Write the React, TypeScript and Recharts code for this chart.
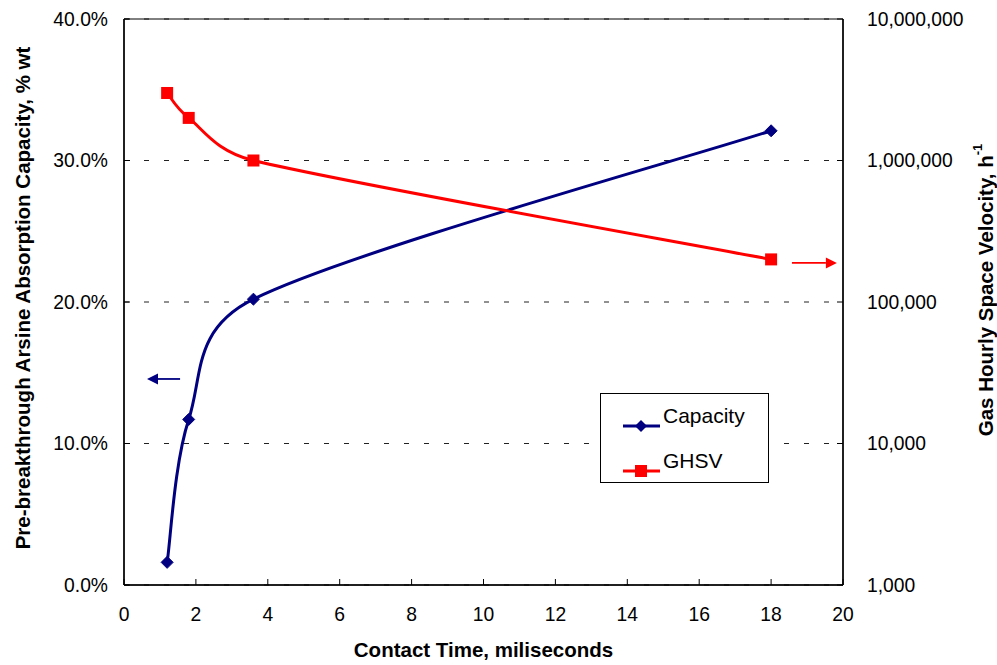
import React from 'react';
import {
  LineChart, Line, XAxis, YAxis, CartesianGrid, Legend, ReferenceLine, ReferenceArea,
} from 'recharts';

// ---------- data ----------
const contactTime = [1.2, 1.8, 3.6, 18];
const capacity = [1.6, 11.7, 20.2, 32.1]; // % wt
const ghsv = [3000000, 2000000, 1000000, 200000]; // h^-1

const xTicks = [0, 2, 4, 6, 8, 10, 12, 14, 16, 18, 20];
const leftTicks = [0, 10, 20, 30, 40];
const rightTicks = [1000, 10000, 100000, 1000000, 10000000];

// arrow annotations (data coordinates)
const capArrow = { from: 1.56, to: 0.64, y: 14.56 };
const ghsvArrow = { from: 18.58, to: 19.83, y: 189000 };

const data = contactTime.map((t, i) => ({ t, capacity: capacity[i], ghsv: ghsv[i] }));

const FONT = 'Arial, "Liberation Sans", Helvetica, sans-serif';
const NAVY = '#000080';
const RED = '#FF0000';
const TITLE_SIZE = 20.5;

// Excel-like smoothing curve
const excelSmooth: any = (context: any) => {
  let pts: [number, number][] = [];
  return {
    areaStart() {},
    areaEnd() {},
    lineStart() { pts = []; },
    lineEnd() {
      const n = pts.length;
      if (n === 0) return;
      context.moveTo(pts[0][0], pts[0][1]);
      if (n === 1) return;
      for (let i = 0; i < n - 1; i++) {
        const p0 = pts[Math.max(i - 1, 0)];
        const p1 = pts[i];
        const p2 = pts[i + 1];
        const p3 = pts[Math.min(i + 2, n - 1)];
        const seg = Math.hypot(p2[0] - p1[0], p2[1] - p1[1]);
        const d1x = p2[0] - p0[0], d1y = p2[1] - p0[1];
        const l1 = Math.hypot(d1x, d1y) || 1;
        const k1 = Math.min(1 / 6, (seg * 0.5) / l1);
        const d2x = p3[0] - p1[0], d2y = p3[1] - p1[1];
        const l2 = Math.hypot(d2x, d2y) || 1;
        const k2 = Math.min(1 / 6, (seg * 0.5) / l2);
        context.bezierCurveTo(
          p1[0] + d1x * k1, p1[1] + d1y * k1,
          p2[0] - d2x * k2, p2[1] - d2y * k2,
          p2[0], p2[1],
        );
      }
    },
    point(x: number, y: number) { pts.push([+x, +y]); },
  };
};

const Diamond = (props: any) => {
  const { cx, cy, index } = props;
  if (cx == null || cy == null) return <g key={`d${index}`} />;
  const r = 6;
  return (
    <polygon
      key={`d${index}`}
      points={`${cx},${cy - r} ${cx + r},${cy} ${cx},${cy + r} ${cx - r},${cy}`}
      fill={NAVY}
      stroke={NAVY}
    />
  );
};

const Square = (props: any) => {
  const { cx, cy, index } = props;
  if (cx == null || cy == null) return <g key={`s${index}`} />;
  const r = 6;
  return <rect key={`s${index}`} x={cx - r} y={cy - r} width={2 * r} height={2 * r} fill={RED} />;
};

const arrowShape = (color: string) => (props: any) => {
  const { x1, y1, x2, y2 } = props;
  if ([x1, y1, x2, y2].some((v) => v == null || isNaN(v))) return <g />;
  const dir = Math.sign(x2 - x1) || 1;
  const head = 11;
  const hw = 5.5;
  return (
    <g>
      <line x1={x1} y1={y1} x2={x2 - dir * head} y2={y2} stroke={color} strokeWidth={1.8} />
      <polygon points={`${x2},${y2} ${x2 - dir * head},${y2 - hw} ${x2 - dir * head},${y2 + hw}`} fill={color} />
    </g>
  );
};

const renderLegend = (props: any) => {
  const payload = props.payload || [];
  return (
    <div
      style={{
        width: 169,
        height: 90,
        boxSizing: 'border-box',
        border: '1px solid #000',
        background: '#fff',
        fontFamily: FONT,
        fontSize: 21,
        paddingTop: 9,
        paddingLeft: 21,
      }}
    >
      {payload.map((entry: any, i: number) => {
        const color = entry.color;
        const isCap = entry.dataKey === 'capacity';
        return (
          <div key={i} style={{ display: 'flex', alignItems: 'center', height: 45, marginTop: 0 }}>
            <svg width={40} height={20} style={{ marginRight: 1 }}>
              <line x1={1} y1={10} x2={38} y2={10} stroke={color} strokeWidth={3} />
              {isCap ? (
                <polygon points="19,4 25,10 19,16 13,10" fill={color} />
              ) : (
                <rect x={13} y={4} width={12} height={12} fill={color} />
              )}
            </svg>
            <span style={{ color: '#000', lineHeight: '21px', position: 'relative', top: -10 }}>{entry.value}</span>
          </div>
        );
      })}
    </div>
  );
};

const XTitle = (p: any) => {
  const vb = p.viewBox || { x: 124, y: 585, width: 719, height: 80 };
  return (
    <text
      x={vb.x + vb.width / 2}
      y={vb.y + 72}
      textAnchor="middle"
      fontFamily={FONT}
      fontSize={TITLE_SIZE}
      fontWeight="bold"
      fill="#000"
    >
      Contact Time, miliseconds
    </text>
  );
};

const LeftTitle = (p: any) => {
  const vb = p.viewBox || { x: 0, y: 19, width: 124, height: 566 };
  const cx = vb.x + 22;
  const cy = vb.y + vb.height / 2 - 4;
  return (
    <text
      x={cx}
      y={cy}
      transform={`rotate(-90 ${cx} ${cy})`}
      textAnchor="middle"
      dominantBaseline="central"
      fontFamily={FONT}
      fontSize={TITLE_SIZE}
      fontWeight="bold"
      fill="#000"
    >
      Pre-breakthrough Arsine Absorption Capacity, % wt
    </text>
  );
};

const RightTitle = (p: any) => {
  const vb = p.viewBox || { x: 843, y: 19, width: 154, height: 566 };
  const cx = vb.x + 142;
  const cy = vb.y + vb.height / 2 - 12;
  return (
    <text
      x={cx}
      y={cy}
      transform={`rotate(-90 ${cx} ${cy})`}
      textAnchor="middle"
      dominantBaseline="central"
      fontFamily={FONT}
      fontSize={TITLE_SIZE}
      fontWeight="bold"
      fill="#000"
    >
      Gas Hourly Space Velocity, h
      <tspan fontSize={13} dy={-8}>-1</tspan>
    </text>
  );
};

const tickStyle = { fontSize: 19.3, fill: '#000', fontFamily: FONT };

export default function App() {
  return (
    <div style={{ position: 'absolute', left: 0, top: 0, width: 997, height: 665, background: '#fff' }}>
      <LineChart
        width={997}
        height={665}
        data={data}
        margin={{ top: 19, right: 0, bottom: 0, left: 0 }}
        style={{ fontFamily: FONT }}
      >
        <CartesianGrid
          yAxisId="left"
          vertical={false}
          stroke="#222"
          strokeDasharray="5 15"
          horizontalValues={leftTicks}
        />
        <ReferenceArea
          yAxisId="left"
          x1={0}
          x2={20}
          y1={0}
          y2={40}
          fill="none"
          fillOpacity={0}
          stroke="#000"
          strokeWidth={1}
          ifOverflow="visible"
        />
        <XAxis
          dataKey="t"
          type="number"
          domain={[0, 20]}
          ticks={xTicks}
          height={80}
          tick={tickStyle}
          tickSize={-6}
          tickMargin={28}
          tickLine={{ stroke: '#000' }}
          axisLine={{ stroke: '#000', strokeWidth: 1.5 }}
          label={<XTitle />}
          allowDataOverflow
        />
        <YAxis
          yAxisId="left"
          orientation="left"
          type="number"
          domain={[0, 40]}
          ticks={leftTicks}
          width={124}
          tick={tickStyle}
          tickSize={-6}
          tickMargin={22}
          tickLine={{ stroke: '#000' }}
          axisLine={{ stroke: '#000', strokeWidth: 1.5 }}
          tickFormatter={(v: number) => `${v.toFixed(1)}%`}
          label={<LeftTitle />}
          allowDataOverflow
        />
        <YAxis
          yAxisId="right"
          orientation="right"
          type="number"
          scale="log"
          domain={[1000, 10000000]}
          ticks={rightTicks}
          width={154}
          tick={tickStyle}
          tickSize={-6}
          tickMargin={30}
          tickLine={{ stroke: '#000' }}
          axisLine={{ stroke: '#000', strokeWidth: 1.5 }}
          tickFormatter={(v: number) => v.toLocaleString('en-US')}
          label={<RightTitle />}
          allowDataOverflow
        />
        <ReferenceLine
          yAxisId="left"
          segment={[{ x: capArrow.from, y: capArrow.y }, { x: capArrow.to, y: capArrow.y }]}
          shape={arrowShape(NAVY)}
          ifOverflow="visible"
        />
        <ReferenceLine
          yAxisId="right"
          segment={[{ x: ghsvArrow.from, y: ghsvArrow.y }, { x: ghsvArrow.to, y: ghsvArrow.y }]}
          shape={arrowShape(RED)}
          ifOverflow="visible"
        />
        <Line
          yAxisId="left"
          dataKey="capacity"
          name="Capacity"
          type={excelSmooth}
          stroke={NAVY}
          strokeWidth={3}
          dot={Diamond}
          activeDot={false}
          isAnimationActive={false}
        />
        <Line
          yAxisId="right"
          dataKey="ghsv"
          name="GHSV"
          type={excelSmooth}
          stroke={RED}
          strokeWidth={3}
          dot={Square}
          activeDot={false}
          isAnimationActive={false}
        />
        <Legend
          layout="vertical"
          align="center"
          verticalAlign="middle"
          content={renderLegend}
          wrapperStyle={{ position: 'absolute', left: 600, top: 393, width: 169, height: 90 }}
        />
      </LineChart>
    </div>
  );
}
